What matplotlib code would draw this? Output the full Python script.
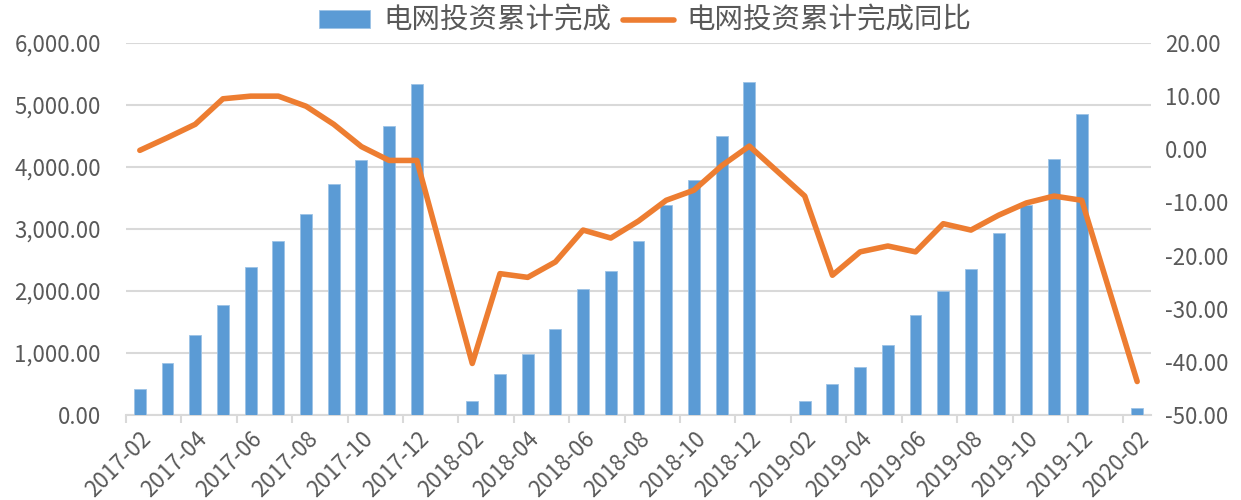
import numpy as np
import pandas as pd
import matplotlib
matplotlib.use('Agg')
import matplotlib.pyplot as plt
from matplotlib.ticker import FuncFormatter

plt.rcParams['font.family'] = ['Noto Sans CJK SC', 'DejaVu Sans']

# monthly categories 2017-02 .. 2020-02 (January has no data)
months = pd.period_range('2017-02', '2020-02', freq='M').strftime('%Y-%m').tolist()

invest_2017 = [424, 843, 1289, 1772, 2385, 2803, 3249, 3733, 4119, 4662, 5338]
invest_2018 = [233, 655, 977, 1391, 2035, 2325, 2803, 3383, 3797, 4506, 5371]
invest_2019 = [231, 494, 779, 1133, 1611, 2003, 2352, 2932, 3390, 4125, 4860]
invest_2020 = [110]

yoy_2017 = [-0.2, 2.2, 4.7, 9.5, 10.0, 10.0, 8.1, 4.7, 0.5, -2.1, -2.1]
yoy_2018 = [-40.3, -23.4, -24.1, -21.2, -15.2, -16.7, -13.5, -9.6, -7.7, -3.1, 0.6]
yoy_2019 = [-8.8, -23.7, -19.3, -18.2, -19.3, -14.0, -15.2, -12.4, -10.1, -8.8, -9.6]
yoy_2020 = [-43.7]

invest = invest_2017 + [np.nan] + invest_2018 + [np.nan] + invest_2019 + [np.nan] + invest_2020
yoy = yoy_2017 + [np.nan] + yoy_2018 + [np.nan] + yoy_2019 + [np.nan] + yoy_2020

bar_name = '电网投资累计完成'
line_name = '电网投资累计完成同比'
blue = '#5B9BD5'
orange = '#ED7D31'
grey_txt = '#595959'
grid_c = '#D9D9D9'

df = pd.DataFrame({'month': months, 'invest': invest, 'yoy': yoy})
x = np.arange(len(df))

fig = plt.figure(figsize=(12.41, 5.0), dpi=100)
ax = fig.add_axes([0.1015, 0.17, 0.826, 0.744])
ax2 = ax.twinx()

bars = ax.bar(x, df['invest'], width=0.43, color=blue, edgecolor='#9DC3E6', linewidth=0.6,
              zorder=3, label=bar_name)
ok = df['yoy'].notna()
line, = ax2.plot(x[ok], df['yoy'][ok], color=orange, lw=4, solid_capstyle='round',
                 solid_joinstyle='round', zorder=4, label=line_name)

ax.set_xlim(-0.5, len(df) - 0.5)
ax.set_ylim(0, 6000)
ax.set_yticks(np.arange(0, 6001, 1000))
ax.yaxis.set_major_formatter(FuncFormatter(lambda v, p: f'{v:,.2f}'))
ax2.set_ylim(-50, 20)
ax2.set_yticks(np.arange(-50, 21, 10))
ax2.yaxis.set_major_formatter(FuncFormatter(lambda v, p: f'{v:.2f}'))

ax.grid(axis='y', color=grid_c, lw=1.5, zorder=0)
ax.set_axisbelow(True)

for a in (ax, ax2):
    for s in a.spines.values():
        s.set_visible(False)
ax.spines['bottom'].set_visible(True)
ax.spines['bottom'].set_color(grid_c)
ax.spines['bottom'].set_linewidth(1.5)

ax.set_xticks(x[::2])
ax.set_xticklabels(df['month'][::2], rotation=45, ha='right', rotation_mode='anchor')
ax.set_xticks(np.arange(-0.5, len(df) - 1, 2), minor=True)
ax.tick_params(axis='x', which='major', length=0, pad=9, labelsize=16, labelcolor=grey_txt)
ax.tick_params(axis='x', which='minor', length=6, width=1.5, color=grid_c)
ax.tick_params(axis='y', length=0, pad=18, labelsize=16, labelcolor=grey_txt)
ax2.tick_params(axis='y', length=0, pad=10, labelsize=16, labelcolor=grey_txt)

fig.legend(handles=[bars, line], labels=[bar_name, line_name], loc='center',
           bbox_to_anchor=(0.52, 0.958), ncol=2, frameon=False, fontsize=20.5,
           labelcolor=grey_txt, handlelength=1.8, handleheight=0.55, columnspacing=0.4,
           handletextpad=0.45)

fig.savefig('out.png', dpi=100)
